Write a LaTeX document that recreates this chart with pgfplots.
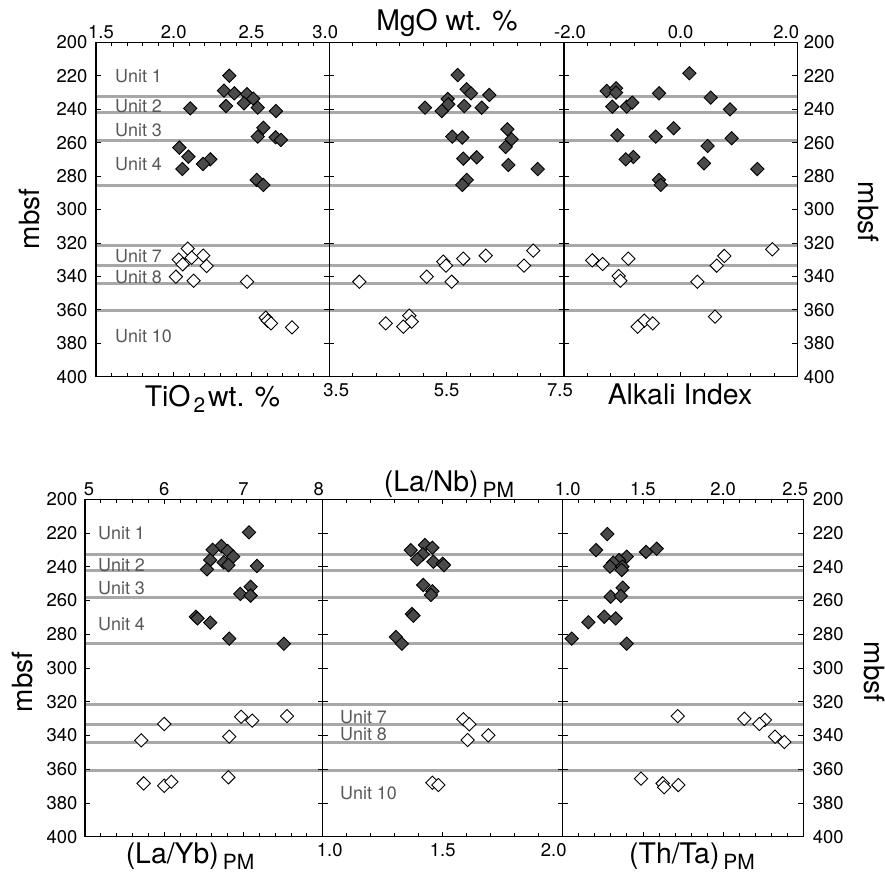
\documentclass[border=0pt]{standalone}
\usepackage{fontspec}
\setmainfont{TeX Gyre Heros}
\usepackage{pgfplots}
\pgfplotsset{compat=1.18}

\definecolor{unitline}{RGB}{168,168,168}
\definecolor{fillgray}{RGB}{74,74,74}
\definecolor{unittext}{RGB}{88,88,88}

\pgfplotsset{
  panel/.style={
    scale only axis, clip=false, axis on top,
    y dir=reverse, ymin=200, ymax=400, ytick={200,220,...,400},
    xtick pos=both, ytick pos=both,
    tick align=inside,
    major tick length=5bp, minor tick length=3.5bp,
    minor x tick num=4,
    axis line style={line width=1.3bp},
    tick style={black, line width=0.8bp},
    tick label style={font=\fontsize{18.5}{19}\selectfont},
    /pgf/number format/assume math mode=true,
  },
  filled/.style={only marks, mark=square*, mark size=4.7bp,
    mark options={rotate=45, fill=fillgray, draw=black, line width=0.9bp}},
  open/.style={only marks, mark=square*, mark size=4.7bp,
    mark options={rotate=45, fill=white, draw=black, line width=0.9bp}},
  ulines/.style={unitline, line width=3bp, forget plot},
}

% horizontal unit boundaries
\newcommand{\unitlines}[2]{%
  \addplot[ulines] coordinates {(#1,232.5) (#2,232.5)};
  \addplot[ulines] coordinates {(#1,242) (#2,242)};
  \addplot[ulines] coordinates {(#1,258.5) (#2,258.5)};
  \addplot[ulines] coordinates {(#1,285.5) (#2,285.5)};
  \addplot[ulines] coordinates {(#1,321.5) (#2,321.5)};
  \addplot[ulines] coordinates {(#1,333.5) (#2,333.5)};
  \addplot[ulines] coordinates {(#1,344) (#2,344)};
  \addplot[ulines] coordinates {(#1,360.5) (#2,360.5)};
}
% shift an edge tick label sideways
\newcommand{\R}[2]{\hspace*{#1}#2}
\newcommand{\Lf}[2]{#2\hspace*{#1}}

\tikzset{
  ttl/.style={font=\fontsize{28.5}{29}\selectfont, anchor=base, inner sep=0pt},
  unitlab/.style={font=\fontsize{18}{19}\selectfont, text=unittext, anchor=west, inner sep=0pt},
  ylab/.style={font=\fontsize{28}{29}\selectfont, inner sep=0pt},
}
\newcommand{\sub}[1]{\raisebox{-6bp}{\fontsize{21}{21}\selectfont #1}}

\begin{document}
\begin{tikzpicture}
\useasboundingbox (0,0) rectangle (885bp,874bp);

%% ---------------- top row ----------------
\begin{axis}[panel, at={(96bp,497.3bp)}, anchor=south west,
  width=233.3bp, height=334.4bp, xmin=1.5, xmax=3.0, xtick={1.5,2,2.5,3},
  xticklabels={\R{10bp}{1.5},2.0,2.5,\Lf{8bp}{3.0}},
  xticklabel pos=right, yticklabel pos=left,
  yticklabel style={xshift=-5bp}]
\unitlines{1.5}{3.0}
\addplot[filled] coordinates {
 (2.357,220.0) (2.323,228.9) (2.389,230.5) (2.471,231.0) (2.511,233.7)
 (2.451,236.5) (2.336,238.1) (2.540,239.1) (2.106,239.5) (2.657,241.1)
 (2.576,251.1) (2.540,256.4) (2.655,256.8) (2.689,258.4) (2.036,263.0)
 (2.094,268.4) (2.235,270.0) (2.188,272.8) (2.055,275.8) (2.533,282.3)
 (2.576,285.3)};
\addplot[open] coordinates {
 (2.090,323.4) (2.190,327.6) (2.032,330.0) (2.115,328.8) (2.057,332.8)
 (2.211,333.8) (2.014,340.2) (2.128,342.6) (2.471,343.2) (2.591,364.7)
 (2.604,366.5) (2.625,368.1) (2.760,370.5)};
\end{axis}

\begin{axis}[panel, at={(329.3bp,497.3bp)}, anchor=south west,
  width=234.7bp, height=334.4bp, xmin=3.5, xmax=7.5, xtick={3.5,5.5,7.5},
  xticklabels={\R{14bp}{3.5},5.5,\Lf{8bp}{7.5}},
  yticklabels={}, xticklabel style={yshift=-3bp}]
\unitlines{3.5}{7.5}
\addplot[filled] coordinates {
 (5.688,219.6) (5.842,228.1) (5.915,230.5) (6.227,231.5) (5.518,233.9)
 (5.131,239.1) (5.528,237.1) (5.800,238.1) (6.097,239.1) (5.416,241.1)
 (6.534,252.0) (6.608,258.0) (5.596,256.4) (5.767,257.0) (6.506,262.6)
 (5.784,269.6) (6.012,268.8) (6.551,273.4) (7.052,275.8) (5.842,282.3)
 (5.767,285.3)};
\addplot[open] coordinates {
 (6.977,324.6) (6.165,327.6) (5.784,329.4) (5.443,331.2) (5.489,333.6)
 (6.818,333.6) (5.160,340.2) (5.586,343.2) (4.011,343.2) (4.864,363.5)
 (4.904,367.1) (4.461,368.1) (4.761,370.1)};
\end{axis}

\begin{axis}[panel, at={(564bp,497.3bp)}, anchor=south west,
  width=233.3bp, height=334.4bp, xmin=-2, xmax=2, xtick={-2,0,2},
  xticklabels={\R{12bp}{-2.0},0.0,\Lf{22bp}{2.0}},
  xticklabel pos=right, yticklabel pos=right,
  yticklabel style={xshift=3bp}]
\unitlines{-2}{2}
\addplot[filled] coordinates {
 (0.149,218.5) (-1.268,229.1) (-1.108,227.5) (-1.108,230.1) (-0.371,230.5)
 (0.515,233.1) (-1.172,238.5) (-0.925,238.5) (-0.829,236.1) (0.846,240.1)
 (-0.120,251.4) (-1.086,255.6) (-0.428,256.4) (0.875,257.4) (0.463,262.0)
 (-0.812,268.6) (-0.942,270.0) (0.400,272.4) (1.314,275.8) (-0.371,282.3)
 (-0.342,285.3)};
\addplot[open] coordinates {
 (1.571,323.8) (0.748,327.8) (-0.897,329.4) (-1.515,330.4) (-1.337,332.6)
 (0.618,333.6) (-1.062,339.8) (-1.034,342.6) (0.286,343.2) (0.589,364.1)
 (-0.623,366.5) (-0.479,368.1) (-0.737,370.1)};
\end{axis}

%% ---------------- bottom row ----------------
\begin{axis}[panel, at={(85bp,37.3bp)}, anchor=south west,
  width=237.7bp, height=337.4bp, xmin=5, xmax=8, xtick={5,6,7,8},
  xticklabels={\R{8bp}{5},6,7,\Lf{8bp}{8}},
  xticklabel pos=right, yticklabel pos=left,
  yticklabel style={xshift=-4bp}]
\unitlines{5}{8}
\addplot[filled] coordinates {
 (7.07,219.6) (6.72,227.7) (6.61,229.9) (6.80,230.6) (6.87,234.0)
 (6.58,236.0) (6.75,237.4) (6.81,239.0) (7.17,239.5) (6.54,241.5)
 (7.09,251.8) (6.96,256.1) (7.09,257.1) (6.40,269.6) (6.42,270.6)
 (6.58,273.1) (6.82,282.6) (7.51,285.6)};
\addplot[open] coordinates {
 (7.55,328.5) (6.97,328.9) (7.11,331.2) (6.00,333.2) (6.82,340.7)
 (5.71,342.9) (6.81,364.8) (5.74,368.4) (6.00,369.8) (6.09,367.4)};
\end{axis}

\begin{axis}[panel, at={(322.7bp,37.3bp)}, anchor=south west,
  width=240bp, height=337.4bp, xmin=1, xmax=2, xtick={1,1.5,2},
  xticklabels={\R{14bp}{1.0},1.5,\Lf{18bp}{2.0}},
  yticklabels={}, xticklabel style={yshift=-3bp}]
\unitlines{1}{2}
\addplot[filled] coordinates {
 (1.426,227.1) (1.457,228.7) (1.367,230.1) (1.417,232.6) (1.394,235.6)
 (1.461,237.0) (1.500,238.2) (1.505,239.0) (1.419,250.8) (1.457,254.5)
 (1.451,256.7) (1.372,268.0) (1.378,269.0) (1.305,281.6) (1.330,285.6)};
\addplot[open] coordinates {
 (1.586,330.4) (1.611,333.4) (1.690,339.9) (1.604,342.7) (1.457,368.0)
 (1.482,369.4)};
\end{axis}

\begin{axis}[panel, at={(562.7bp,37.3bp)}, anchor=south west,
  width=240.6bp, height=337.4bp, xmin=1, xmax=2.5, xtick={1,1.5,2,2.5},
  xticklabels={\R{10bp}{1.0},1.5,2.0,\Lf{16bp}{2.5}},
  xticklabel pos=right, yticklabel pos=right,
  yticklabel style={xshift=6bp}]
\unitlines{1}{2.5}
\addplot[filled] coordinates {
 (1.278,220.6) (1.208,230.1) (1.519,231.2) (1.586,229.3) (1.399,234.0)
 (1.351,236.0) (1.315,237.6) (1.295,239.9) (1.372,239.9) (1.368,241.9)
 (1.374,252.4) (1.299,257.7) (1.362,257.3) (1.259,269.6) (1.330,270.6)
 (1.160,272.9) (1.056,282.6) (1.399,285.6)};
\addplot[open] coordinates {
 (1.717,328.5) (2.132,330.1) (2.261,330.8) (2.226,333.2) (2.324,340.7)
 (2.382,343.9) (1.488,365.6) (1.623,368.4) (1.632,370.7) (1.721,369.4)};
\end{axis}

%% ---------------- titles ----------------
\node[ttl] at (447bp,843.3bp) {MgO wt. \%};
\node[ttl] at (212.5bp,467.3bp) {TiO\kern3bp\sub{2}\kern3bp wt. \%};
\node[ttl] at (680bp,469bp) {Alkali Index};
\node[ttl] at (449bp,382.3bp) {(La/Nb)\kern4bp\sub{PM}};
\node[ttl] at (190bp,10.7bp) {(La/Yb)\kern4bp\sub{PM}};
\node[ttl] at (692bp,10.7bp) {(Th/Ta)\kern4bp\sub{PM}};

\node[ylab, rotate=90] at (29bp,655bp) {mbsf};
\node[ylab, rotate=-90] at (868bp,662bp) {mbsf};
\node[ylab, rotate=90] at (22bp,192bp) {mbsf};
\node[ylab, rotate=-90] at (874bp,202bp) {mbsf};

%% ---------------- unit labels ----------------
\node[unitlab] at (115bp,798bp) {Unit 1};
\node[unitlab] at (115bp,768bp) {Unit 2};
\node[unitlab] at (115bp,744bp) {Unit 3};
\node[unitlab] at (115bp,710bp) {Unit 4};
\node[unitlab] at (115bp,618bp) {Unit 7};
\node[unitlab] at (115bp,597.3bp) {Unit 8};
\node[unitlab] at (115bp,538bp) {Unit 10};

\node[unitlab] at (98bp,340.7bp) {Unit 1};
\node[unitlab] at (98bp,309bp) {Unit 2};
\node[unitlab] at (98bp,285.7bp) {Unit 3};
\node[unitlab] at (98bp,250bp) {Unit 4};
\node[unitlab] at (340bp,157.3bp) {Unit 7};
\node[unitlab] at (340bp,139.7bp) {Unit 8};
\node[unitlab] at (340bp,80.7bp) {Unit 10};
\end{tikzpicture}
\end{document}
